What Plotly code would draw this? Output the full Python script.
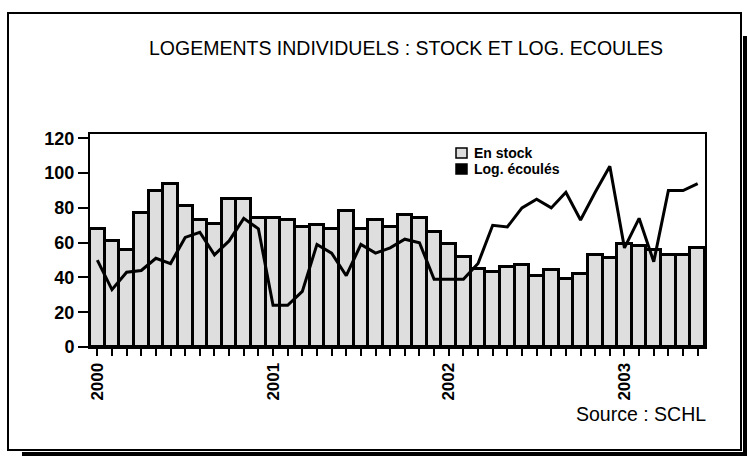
import plotly.graph_objects as go

months = [f"{y}-{m:02d}" for y in range(2000, 2004) for m in range(1, 13)][:42]
stock = [68, 61, 56, 77, 90, 94, 81, 73, 71, 85, 85, 74, 74, 73, 69, 70, 68, 78, 68, 73, 69,
         76, 74, 66, 59, 52, 45, 43, 46, 47, 41, 44, 39, 42, 53, 51, 59, 58, 56, 53, 53, 57]
ecoules = [50, 33, 43, 44, 51, 48, 63, 66, 53, 61, 74, 68, 24, 24, 32, 59, 54, 41, 59, 54, 57,
           62, 60, 39, 39, 39, 48, 70, 69, 80, 85, 80, 89, 73, 89, 104, 57, 74, 49, 90, 90, 94]
year_labels = {"2000-01": "2000", "2001-01": "2001", "2002-01": "2002", "2003-01": "2003"}
ytick_vals = [0, 20, 40, 60, 80, 100, 120]

W, H = 748, 457
L, R, T, B = 90, 705, 134, 347


def px(x):
    return (x - L) / (R - L)


def py(y):
    return (B - y) / (B - T)


fig = go.Figure()
fig.add_trace(go.Bar(x=months, y=stock, name="En stock",
                     marker=dict(color="#dedede", line=dict(color="black", width=3)),
                     showlegend=False))
fig.add_trace(go.Scatter(x=months, y=ecoules, name="Log. écoulés", mode="lines",
                         line=dict(color="black", width=3), showlegend=False))

font_b = "Liberation Sans"

shapes = []
shapes.append(dict(type="rect", xref="paper", yref="paper", x0=px(8), x1=px(741), y0=py(450), y1=py(13),
                   line=dict(color="black", width=2), layer="below"))
shapes.append(dict(type="line", xref="paper", yref="paper", x0=px(745), x1=px(745), y0=py(36), y1=py(455),
                   line=dict(color="black", width=4)))
shapes.append(dict(type="line", xref="paper", yref="paper", x0=px(22), x1=px(747), y0=py(454), y1=py(454),
                   line=dict(color="black", width=4)))
shapes.append(dict(type="rect", xref="paper", yref="paper", x0=px(456), x1=px(467), y0=py(148), y1=py(158),
                   fillcolor="#dedede", line=dict(color="black", width=1.5)))
shapes.append(dict(type="rect", xref="paper", yref="paper", x0=px(456), x1=px(467), y0=py(164), y1=py(174),
                   fillcolor="black", line=dict(color="black", width=1.5)))

annotations = [
    dict(text="LOGEMENTS INDIVIDUELS : STOCK ET LOG. ECOULES", xref="paper", yref="paper",
         x=px(406), y=py(48), showarrow=False, font=dict(family=font_b, size=19.5, color="black"),
         xanchor="center", yanchor="middle"),
    dict(text="<b>En stock</b>", xref="paper", yref="paper", x=px(472), y=py(153), showarrow=False,
         font=dict(family=font_b, size=14, color="black"), xanchor="left", yanchor="middle"),
    dict(text="<b>Log. écoulés</b>", xref="paper", yref="paper", x=px(472), y=py(169), showarrow=False,
         font=dict(family=font_b, size=14, color="black"), xanchor="left", yanchor="middle"),
    dict(text="Source : SCHL", xref="paper", yref="paper", x=px(708), y=py(414), showarrow=False,
         font=dict(family=font_b, size=19.5, color="black"), xanchor="right", yanchor="middle"),
]

fig.update_layout(
    width=W, height=H, autosize=False,
    margin=dict(l=L, r=W - R, t=T, b=H - B, pad=0, autoexpand=False),
    paper_bgcolor="white", plot_bgcolor="white",
    bargap=0,
    shapes=shapes, annotations=annotations,
    xaxis=dict(type="category", tickmode="array", tickvals=months,
               ticktext=[f"<b>{year_labels.get(m, '')}</b>" for m in months],
               tickangle=-90, ticks="outside", ticklen=7, tickwidth=2, tickcolor="black",
               showline=True, linecolor="black", linewidth=2, mirror=True, automargin=False,
               showgrid=False, zeroline=False,
               tickfont=dict(family=font_b, size=17, color="black")),
    yaxis=dict(range=[0, 122.5], tickvals=ytick_vals, ticks="outside", ticklen=10, tickwidth=2,
               tickcolor="black", showline=True, linecolor="black", linewidth=2, mirror=True,
               showgrid=False, zeroline=False, automargin=False,
               ticktext=[f"<b>{v}</b>" for v in ytick_vals], tickmode="array",
               tickfont=dict(family=font_b, size=18, color="black")),
)

fig.write_html("out.html", post_script="document.body.style.margin='0';",
               config={"displayModeBar": False})
